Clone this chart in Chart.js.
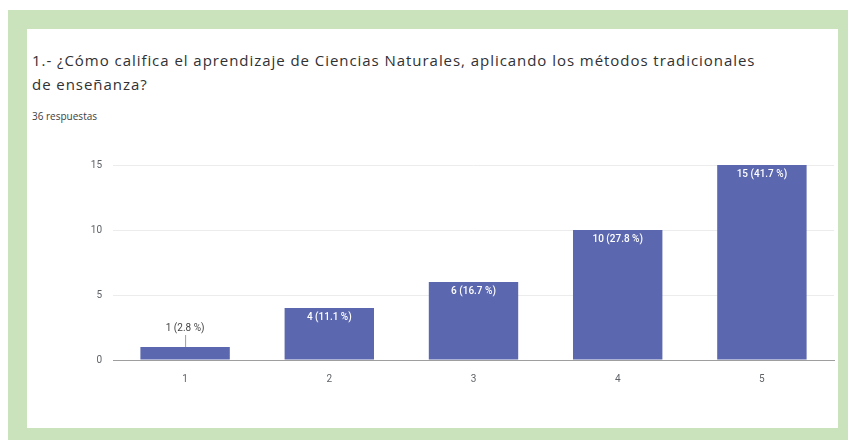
<!DOCTYPE html>
<html>
<head>
<meta charset="utf-8">
<script src="https://cdn.jsdelivr.net/npm/chart.js@4.4.0/dist/chart.umd.min.js"></script>
<style>
  html, body { margin: 0; padding: 0; background: #fff; }
  body { width: 853px; height: 443px; position: relative; overflow: hidden; font-family: "Open Sans", Roboto, sans-serif; }
  #frame { position: absolute; left: 8px; top: 10px; width: 840px; height: 430px; background: #cbe3bd; }
  #card { position: absolute; left: 27px; top: 29px; width: 811px; height: 399px; background: #fff; }
  #title { position: absolute; left: 32px; top: 48px; font-size: 15px; letter-spacing: 0.95px; line-height: 24px; color: #303134; width: 735px; }
  #count { position: absolute; left: 32px; top: 109px; font-size: 10px; color: #3c4043; }
  #wrap { position: absolute; left: 40px; top: 140px; width: 800px; height: 260px; }
</style>
</head>
<body>
<div id="frame"></div>
<div id="card"></div>
<div id="title">1.- ¿Cómo califica el aprendizaje de Ciencias Naturales, aplicando los métodos tradicionales de enseñanza?</div>
<div id="count">36 respuestas</div>
<div id="wrap"><canvas id="chart"></canvas></div>
<script>
// answers on the 1-5 scale
const categories = ["1", "2", "3", "4", "5"];
const counts = [1, 4, 6, 10, 15];
const percents = ["2.8", "11.1", "16.7", "27.8", "41.7"];
const yTicks = [0, 5, 10, 15];

// draws "n (p %)" on each bar, small bars get it above with a short line
const barLabels = {
    id: "barLabels",
    afterDatasetsDraw(chart) {
        const ctx = chart.ctx;
        const meta = chart.getDatasetMeta(0);
        ctx.save();
        ctx.textAlign = "center";
        meta.data.forEach(function(bar, i) {
            const text = counts[i] + " (" + percents[i] + " %)";
            if (counts[i] < 2) {
                ctx.strokeStyle = "#9e9e9e";
                ctx.lineWidth = 1;
                ctx.beginPath();
                ctx.moveTo(bar.x + 0.5, bar.y - 12);
                ctx.lineTo(bar.x + 0.5, bar.y);
                ctx.stroke();
                ctx.font = "10px Roboto, sans-serif";
                ctx.fillStyle = "#444";
                ctx.textBaseline = "bottom";
                ctx.fillText(text, bar.x, bar.y - 14);
            } else {
                ctx.font = "500 10px Roboto, sans-serif";
                ctx.fillStyle = "#fff";
                ctx.textBaseline = "top";
                ctx.fillText(text, bar.x, bar.y + 4);
            }
        });
        ctx.restore();
    }
};

new Chart(document.getElementById("chart"), {
    type: "bar",
    data: {
        labels: categories,
        datasets: [{
            data: counts,
            backgroundColor: "#5b67ae",
            categoryPercentage: 1,
            barPercentage: 0.62
        }]
    },
    options: {
        responsive: true,
        maintainAspectRatio: false,
        animation: false,
        layout: { padding: { top: 25, right: 6, left: 0, bottom: 0 } },
        plugins: { legend: { display: false }, tooltip: { enabled: false } },
        scales: {
            x: {
                grid: { display: false, drawTicks: false },
                border: { color: "#9e9e9e", width: 1 },
                ticks: { color: "#5f6368", font: { size: 10, family: "Roboto" }, padding: 13 },
                afterFit(scale) { scale.height = 40; }
            },
            y: {
                min: 0,
                max: 15,
                afterBuildTicks(scale) { scale.ticks = yTicks.map(v => ({ value: v })); },
                grid: { color: "#ececec", drawTicks: false },
                border: { display: false },
                ticks: { color: "#5f6368", font: { size: 10, family: "Roboto" }, padding: 11 },
                afterFit(scale) { scale.width = 73; }
            }
        }
    },
    plugins: [barLabels]
});
</script>
</body>
</html>
